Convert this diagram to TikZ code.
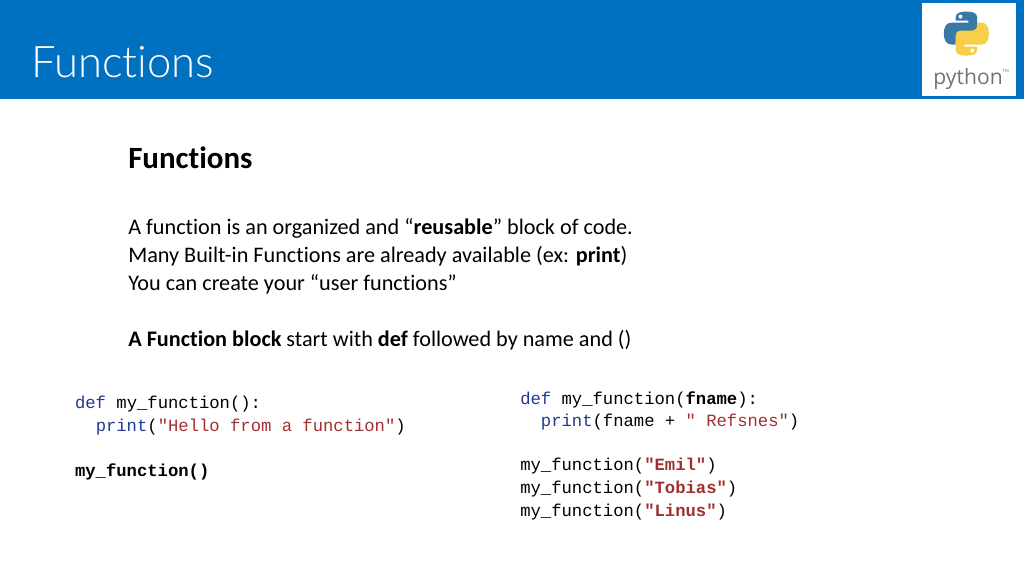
\documentclass[tikz,border=0pt]{standalone}
\usepackage{fontspec}
\setmainfont[RawFeature={-liga}]{Carlito}
\setmonofont{Liberation Mono}
\newfontfamily\logofont{Open Sans}
\newfontfamily\titlefont[RawFeature={-liga}]{Lato Light}
\usetikzlibrary{positioning}
\definecolor{barblue}{HTML}{0070C0}
\definecolor{kwblue}{HTML}{1F3B8F}
\definecolor{strred}{HTML}{A03030}
\definecolor{snakeblue}{HTML}{3A78A8}
\definecolor{snakeyellow}{HTML}{F8CF4A}
\newcommand{\kw}[1]{\textcolor{kwblue}{#1}}
\newcommand{\strg}[1]{\textcolor{strred}{#1}}
\tikzset{
    bodytext/.style={anchor=base west, inner sep=0pt, font=\fontsize{15.8}{18}\selectfont},
    codetext/.style={anchor=base west, inner sep=0pt, font=\ttfamily\fontsize{12.25}{14}\selectfont},
}
\begin{document}
\begin{tikzpicture}

    \useasboundingbox (0,0) rectangle (25.6,-14.4);

    %header
    \fill [barblue] (0,0) rectangle (25.6,-2.48);
    \fill [white] (23.05,-0.08) rectangle (25.4,-2.4);
    \node (title) [anchor=base west, inner sep=0pt, text=white, font=\titlefont\fontsize{31}{36}\selectfont] at (0.78,-1.94) {Functions};

    %logo
    \foreach \r/\c in {0/snakeblue,180/snakeyellow} {
        \begin{scope}[shift={(24.16,-0.84)}, rotate=\r, x=0.0245cm, y=-0.025cm]
            \fill [\c] (-11,-16) .. controls (-11,-21) and (-6,-22) .. (0,-22)
                .. controls (6,-22) and (11,-21) .. (11,-16) -- (11,-2)
                .. controls (11,1) and (9,3) .. (6,3) -- (-5,3)
                .. controls (-9,3) and (-11,5) .. (-11,9) -- (-11,11) -- (-15,11)
                .. controls (-21,11) and (-23,6) .. (-23,0)
                .. controls (-23,-6) and (-21,-11) .. (-15,-11) -- (2,-11) -- (2,-13) -- (-11,-13) -- cycle;
            \fill [white] (-6,-17) circle (2);
        \end{scope}
    }
    \node (logotext) [anchor=base west, inner sep=0pt, text=black!55, font=\logofont\fontsize{15}{18}\selectfont] at (23.33,-2.12) {python\raisebox{1.1ex}{\fontsize{3}{3}\selectfont TM}};

    %text
    \node (head) [bodytext, font=\bfseries\fontsize{22}{24}\selectfont] at (3.2,-4.21) {Functions};
    \node (line1) [bodytext] at (3.2,-5.87) {A function is an organized and “\textbf{reusable}” block of code.};
    \node (line2) [bodytext] at (3.2,-6.57) {Many Built-in Functions are already available (ex: \textbf{print})};
    \node (line3) [bodytext] at (3.2,-7.27) {You can create your “user functions”};
    \node (line4) [bodytext] at (3.2,-8.67) {\textbf{A Function block} start with \textbf{def} followed by name and ()};

    %left code
    \node (codea) [codetext] at (1.87,-10.22) {\kw{def} my\_function():};
    \node (codeb) [codetext] at (1.87,-10.79) {\ \ \kw{print}(\strg{"Hello from a function"})};
    \node (codec) [codetext] at (1.87,-11.92) {\textbf{my\_function()}};

    %right code
    \node (coded) [codetext] at (13,-10.1) {\kw{def} my\_function(\textbf{fname}):};
    \node (codee) [codetext] at (13,-10.66) {\ \ \kw{print}(fname + \strg{" Refsnes"})};
    \node (codef) [codetext] at (13,-11.77) {my\_function(\strg{\textbf{"Emil"}})};
    \node (codeg) [codetext] at (13,-12.34) {my\_function(\strg{\textbf{"Tobias"}})};
    \node (codeh) [codetext] at (13,-12.91) {my\_function(\strg{\textbf{"Linus"}})};

\end{tikzpicture}
\end{document}
